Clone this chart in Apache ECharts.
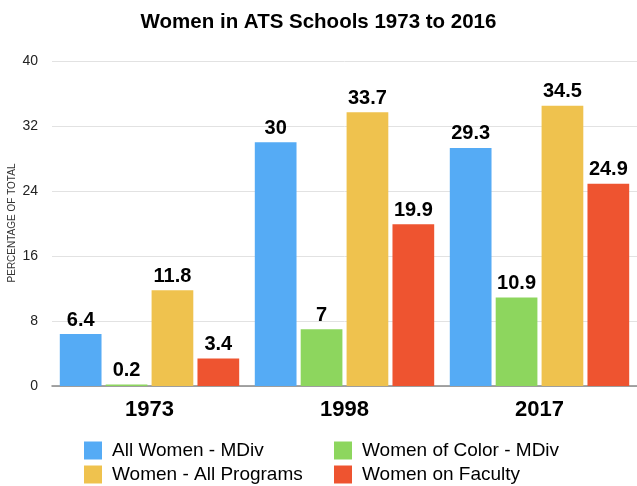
<!DOCTYPE html>
<html>
<head>
<meta charset="utf-8">
<script src="https://cdn.jsdelivr.net/npm/echarts@6/dist/echarts.min.js"></script>
<style>
  html, body { margin: 0; padding: 0; background: #fff; }
  #chart { width: 637px; height: 486px; }
</style>
</head>
<body>
<div id="chart"></div>
<script>
// data
var years = ['1973', '1998', '2017']
var allWomenMDiv = [6.4, 30, 29.3]
var womenOfColorMDiv = [0.2, 7, 10.9]
var womenAllPrograms = [11.8, 33.7, 34.5]
var womenOnFaculty = [3.4, 19.9, 24.9]
var yTicks = [0, 8, 16, 24, 32, 40]
var yName = 'PERCENTAGE OF TOTAL'

var font = 'Liberation Sans, Arial, Helvetica, sans-serif'

var mycharts = echarts.init(document.getElementById('chart'))

function bar(name, data, color) {
  return {
    name: name,
    type: 'bar',
    data: data,
    barGap: '10%',
    barCategoryGap: '8%',
    itemStyle: { color: color },
    label: {
      show: true,
      position: 'top',
      distance: 4,
      color: '#000',
      fontFamily: font,
      fontWeight: 'bold',
      fontSize: 20
    }
  }
}

// one legend per item so the 2x2 layout sits where the reference has it
function legendItem(name, left, top) {
  return {
    left: left,
    top: top,
    padding: 0,
    itemWidth: 18,
    itemHeight: 18,
    icon: 'rect',
    data: [name],
    textStyle: { fontFamily: font, fontSize: 19, color: '#000', padding: [0, 0, 0, 5] }
  }
}

mycharts.setOption({
  animation: false,
  textStyle: { fontFamily: font },
  title: {
    text: 'Women in ATS Schools 1973 to 2016',
    left: 'center',
    top: 7,
    textStyle: { fontFamily: font, fontWeight: 'bold', fontSize: 20.5, color: '#000' }
  },
  legend: [
    legendItem('All Women - MDiv', 84, 441),
    legendItem('Women - All Programs', 84, 465),
    legendItem('Women of Color - MDiv', 334, 441),
    legendItem('Women on Faculty', 334, 465)
  ],
  // y axis title, the axis name kept snapping to the left edge
  graphic: [
    {
      type: 'text',
      x: 12,
      y: 223,
      rotation: Math.PI / 2,
      style: {
        text: yName,
        fontFamily: font,
        fontSize: 10,
        fill: '#333',
        align: 'center',
        verticalAlign: 'middle'
      }
    }
  ],
  grid: {
    left: 52,
    right: 0,
    top: 61,
    bottom: 100,
    containLabel: false,
    outerBoundsMode: 'none'
  },
  xAxis: {
    type: 'category',
    data: years,
    axisTick: { show: false },
    axisLine: { lineStyle: { color: '#888', width: 1.5 } },
    axisLabel: {
      color: '#000',
      fontFamily: font,
      fontWeight: 'bold',
      fontSize: 22,
      margin: 13
    }
  },
  yAxis: {
    type: 'value',
    min: yTicks[0],
    max: yTicks[yTicks.length - 1],
    interval: 8,
    axisLine: { show: false },
    axisTick: { show: false },
    axisLabel: { color: '#222', fontFamily: font, fontSize: 14, margin: 14 },
    splitLine: { lineStyle: { color: '#e2e2e2', width: 1 } }
  },
  series: [
    bar('All Women - MDiv', allWomenMDiv, '#55abf5'),
    bar('Women of Color - MDiv', womenOfColorMDiv, '#8dd65e'),
    bar('Women - All Programs', womenAllPrograms, '#efc24e'),
    bar('Women on Faculty', womenOnFaculty, '#ee5430')
  ]
})
</script>
</body>
</html>
